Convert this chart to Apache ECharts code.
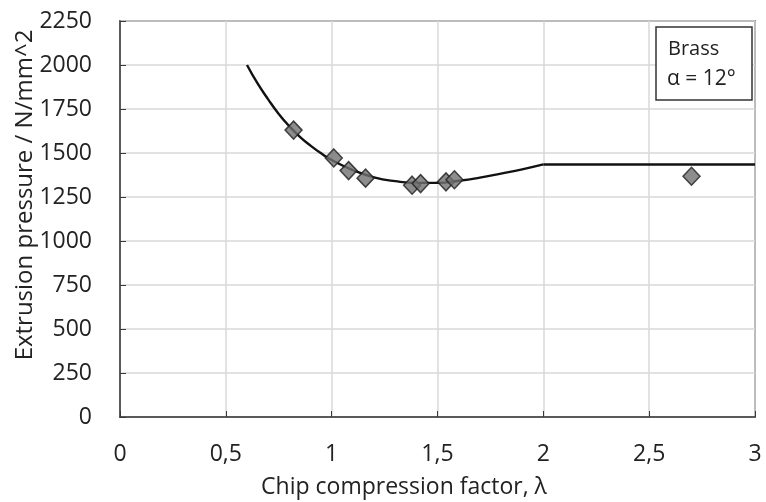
<!DOCTYPE html>
<html>
<head>
<meta charset="utf-8">
<script src="https://cdn.jsdelivr.net/npm/echarts@6/dist/echarts.min.js"></script>
<style>html,body{margin:0;padding:0;background:#fff}#c{width:766px;height:502px}</style>
</head>
<body>
<div id="c"></div>
<script>
// Measured points (chip compression factor, extrusion pressure)
const pointX = [0.82, 1.01, 1.08, 1.16, 1.38, 1.42, 1.54, 1.58, 2.70];
const pointY = [1630, 1472, 1400, 1357, 1317, 1326, 1336, 1348, 1368];
// Fitted curve (curved part, then flat part)
const curveX = [0.60, 0.65, 0.70, 0.75, 0.80, 0.85, 0.90, 0.95, 1.00, 1.10, 1.20, 1.30, 1.40, 1.50, 1.60, 1.70, 1.80, 1.90, 2.00];
const curveY = [2000, 1895, 1805, 1722, 1652, 1592, 1542, 1498, 1460, 1403, 1362, 1340, 1330, 1330, 1342, 1360, 1383, 1407, 1435];
const flatX = [2.00, 3.00];
const flatY = [1435, 1435];
const xTicks = [0, 0.5, 1, 1.5, 2, 2.5, 3];
const yTicks = [0, 250, 500, 750, 1000, 1250, 1500, 1750, 2000, 2250];
const xTitle = 'Chip compression factor, λ';
const yTitle = 'Extrusion pressure / N/mm^2';
const boxLines = ['Brass', 'α = 12°'];

const font = '"Open Sans", sans-serif';
const txt = '#222';
const chart = echarts.init(document.getElementById('c'), null, {renderer: 'canvas'});
chart.setOption({
  animation: false,
  backgroundColor: '#fff',
  grid: {left: 120, right: 11, top: 21, bottom: 85, show: true, borderColor: '#3a3a3a', borderWidth: 1.5},
  xAxis: {
    type: 'value', min: xTicks[0], max: xTicks[xTicks.length - 1], interval: 0.5,
    axisLine: {show: true, onZero: false, lineStyle: {color: '#3a3a3a', width: 1.5}},
    axisTick: {show: true, inside: true, length: 6, lineStyle: {color: '#3a3a3a'}},
    axisLabel: {margin: 26, fontFamily: font, fontSize: 23, color: txt,
      formatter: v => String(v).replace('.', ',')},
    splitLine: {show: true, lineStyle: {color: '#d9d9d9', width: 1.5}}
  },
  yAxis: {
    type: 'value', min: yTicks[0], max: yTicks[yTicks.length - 1], interval: 250,
    axisLine: {show: true, lineStyle: {color: '#3a3a3a', width: 1.5}},
    axisTick: {show: true, inside: true, length: 6, lineStyle: {color: '#3a3a3a'}},
    axisLabel: {margin: 28, fontFamily: font, fontSize: 23, color: txt,
      formatter: v => String(v)},
    splitLine: {show: true, lineStyle: {color: '#d9d9d9', width: 1.5}}
  },
  series: [
    {
      type: 'line', data: curveX.map((x, i) => [x, curveY[i]]),
      smooth: 0.5, showSymbol: false,
      lineStyle: {color: '#111', width: 2.4}, z: 2
    },
    {
      type: 'line', data: flatX.map((x, i) => [x, flatY[i]]),
      showSymbol: false,
      lineStyle: {color: '#111', width: 2.4}, z: 2
    },
    {
      type: 'scatter', data: pointX.map((x, i) => [x, pointY[i]]),
      symbol: 'diamond', symbolSize: [17, 18],
      itemStyle: {color: '#717171', borderColor: '#1e1e1e', borderWidth: 1.5}, z: 3
    }
  ],
  graphic: [
    {type: 'text', x: 404, y: 487, style: {text: xTitle, font: '23px ' + font, fill: txt, textAlign: 'center', textVerticalAlign: 'middle'}},
    {type: 'text', x: 25, y: 195, rotation: Math.PI / 2, style: {text: yTitle, font: '24px ' + font, fill: txt, textAlign: 'center', textVerticalAlign: 'middle'}},
    {type: 'rect', shape: {x: 656, y: 27, width: 96, height: 73},
      style: {fill: '#fff', stroke: '#333', lineWidth: 1.5}, z: 10},
    {type: 'text', x: 668, y: 49, style: {text: boxLines[0], font: '20px ' + font, fill: txt, textVerticalAlign: 'middle'}, z: 11},
    {type: 'text', x: 667, y: 79, style: {text: boxLines[1], font: '21px ' + font, fill: txt, textVerticalAlign: 'middle'}, z: 11}
  ]
});
</script>
</body>
</html>
